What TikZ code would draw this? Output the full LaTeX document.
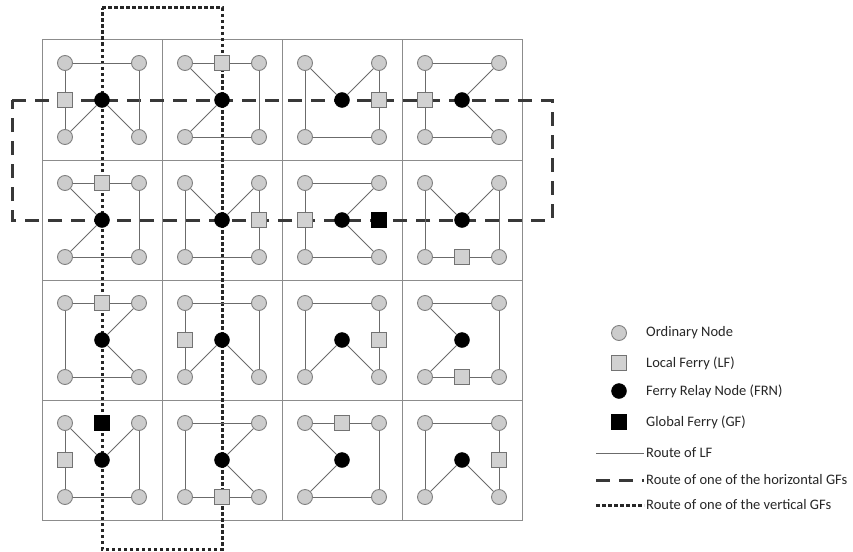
\documentclass[tikz,border=0pt]{standalone}
\usepackage{fontspec}
\setmainfont{Carlito}
\usetikzlibrary{calc}

\tikzset{
	cellbox/.style={draw=black!45, line width=1pt},
	ordnode/.style={circle, draw=black!50, fill=black!20, line width=0.9pt, minimum size=15pt, inner sep=0pt},
	lfnode/.style={rectangle, draw=black!55, fill=black!18, line width=0.9pt, minimum size=15pt, inner sep=0pt},
	frnnode/.style={circle, draw=black, fill=black, minimum size=15pt, inner sep=0pt},
	gfnode/.style={rectangle, draw=black, fill=black, minimum size=15pt, inner sep=0pt},
	lfroute/.style={draw=black!58, line width=1pt},
	hroute/.style={draw=black!78, line width=3pt, dash pattern=on 14pt off 9pt},
	vroute/.style={draw=black!85, line width=3pt, dash pattern=on 3.5pt off 2.5pt},
	legtext/.style={anchor=west, inner sep=2pt, text=black!85, font=\fontsize{14.5}{17}\selectfont}
}

\begin{document}
\begin{tikzpicture}[x=1pt, y=-1pt]
		\useasboundingbox (0,0) rectangle (853,551);
		
		\def\d{37} % offset of the corner nodes from the cell centre
		
		% the 4x4 cells
		\foreach \r in {0,...,3}{
			\foreach \c in {0,...,3}{
				\draw[cellbox] (42+120*\c, 40+120*\r) rectangle ++(120,120);
			}
		}
		
		% route of one of the horizontal GFs
		\coordinate (h-nw) at (12,100);
		\coordinate (h-ne) at (552,100);
		\coordinate (h-se) at (552,220);
		\coordinate (h-sw) at (12,220);
		\draw[hroute] (h-nw) -- (h-ne) -- (h-se) -- (h-sw) -- cycle;
		
		% route of one of the vertical GFs
		\coordinate (v-nw) at (102,8);
		\coordinate (v-ne) at (222,8);
		\coordinate (v-se) at (222,549);
		\coordinate (v-sw) at (102,549);
		\draw[vroute] (v-nw) -- (v-ne) -- (v-se) -- (v-sw) -- cycle;
		
		% row/col/LF position/route of the LF (from tl back to tl)
		\foreach \r/\c/\lx/\ly/\route in {
			1/1/-1/0/{tr,br,frn,bl,lf,tl},
			1/2/0/-1/{lf,tr,br,bl,frn,tl},
			1/3/1/0/{frn,tr,lf,br,bl,tl},
			1/4/-1/0/{tr,frn,br,bl,lf,tl},
			2/1/0/-1/{lf,tr,br,bl,frn,tl},
			2/2/1/0/{frn,tr,lf,br,bl,tl},
			2/3/-1/0/{tr,frn,br,bl,lf,tl},
			2/4/0/1/{frn,tr,br,lf,bl,tl},
			3/1/0/-1/{lf,tr,frn,br,bl,tl},
			3/2/-1/0/{tr,br,frn,bl,lf,tl},
			3/3/1/0/{tr,lf,br,frn,bl,tl},
			3/4/0/1/{tr,br,lf,bl,frn,tl},
			4/1/-1/0/{frn,tr,br,bl,lf,tl},
			4/2/0/1/{tr,frn,br,lf,bl,tl},
			4/3/0/-1/{lf,tr,br,bl,frn,tl},
			4/4/1/0/{tr,lf,br,frn,bl,tl}}{
			\pgfmathsetmacro{\cx}{102+120*(\c-1)}
			\pgfmathsetmacro{\cy}{100+120*(\r-1)}
			\pgfmathsetmacro{\lfx}{\cx+\lx*\d}
			\pgfmathsetmacro{\lfy}{\cy+\ly*\d}
			\node[ordnode] (n\r\c-tl) at (\cx-\d, \cy-\d) {};
			\node[ordnode] (n\r\c-tr) at (\cx+\d, \cy-\d) {};
			\node[ordnode] (n\r\c-bl) at (\cx-\d, \cy+\d) {};
			\node[ordnode] (n\r\c-br) at (\cx+\d, \cy+\d) {};
			\node[frnnode] (n\r\c-frn) at (\cx, \cy) {};
			\node[lfnode] (n\r\c-lf) at (\lfx, \lfy) {};
			\foreach \p [remember=\p as \q (initially tl)] in \route
				\draw[lfroute] (n\r\c-\q) -- (n\r\c-\p);
		}
		
		% the two GFs
		\node[gfnode] (gf-h) at (379,220) {};
		\node[gfnode] (gf-v) at (102,423) {};
		
		% legend
		\node[ordnode] (leg-ord) at (619,333) {};
		\node[legtext] (leg-ord-txt) at (644,333) {Ordinary Node};
		\node[lfnode] (leg-lf) at (619,363) {};
		\node[legtext] (leg-lf-txt) at (644,363) {Local Ferry (LF)};
		\node[frnnode] (leg-frn) at (619,391) {};
		\node[legtext] (leg-frn-txt) at (644,391) {Ferry Relay Node (FRN)};
		\node[gfnode] (leg-gf) at (619,422) {};
		\node[legtext] (leg-gf-txt) at (644,422) {Global Ferry (GF)};
		
		\coordinate (leg-lfr) at (596,453);
		\node[legtext] (leg-lfr-txt) at (644,453) {Route of LF};
		\draw[lfroute] (leg-lfr) -- (leg-lfr-txt);
		\coordinate (leg-hr) at (596,480);
		\node[legtext] (leg-hr-txt) at (644,480) {Route of one of the horizontal GFs};
		\draw[hroute] (leg-hr) -- (leg-hr-txt);
		\coordinate (leg-vr) at (596,505);
		\node[legtext] (leg-vr-txt) at (644,505) {Route of one of the vertical GFs};
		\draw[vroute] (leg-vr) -- (leg-vr-txt);
		
	\end{tikzpicture}
\end{document}
